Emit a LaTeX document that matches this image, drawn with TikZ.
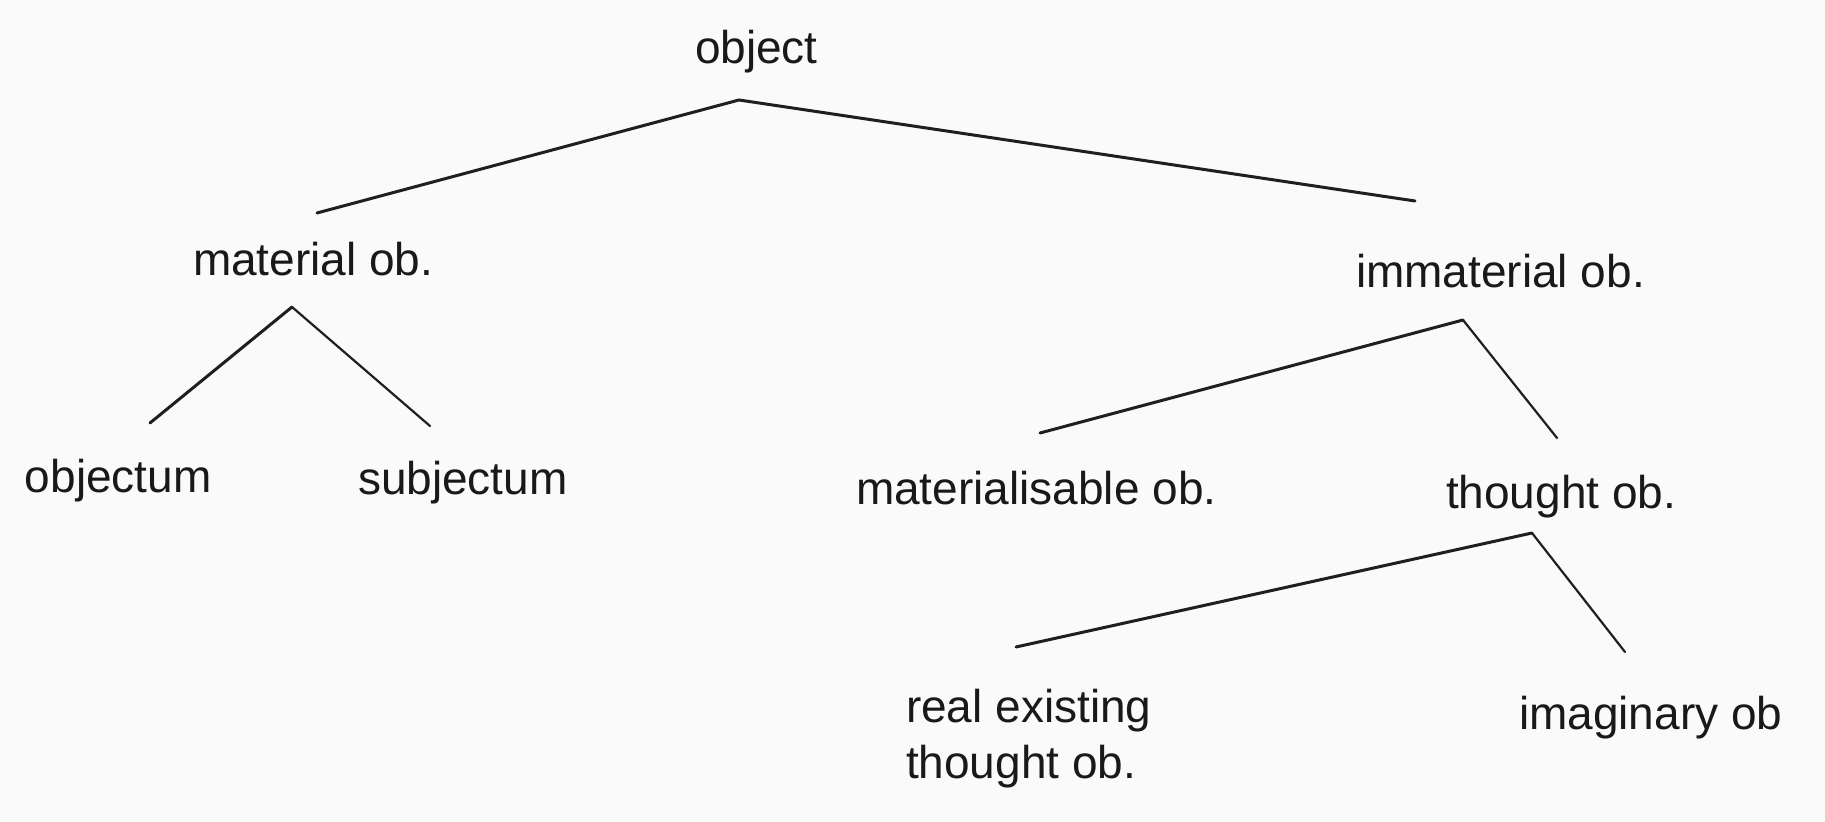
\documentclass[tikz,border=0pt]{standalone}
\usepackage{fontspec}
\setmainfont{Liberation Sans}
\begin{document}
\begin{tikzpicture}[x=0.5pt,y=-0.5pt,
  label/.style={anchor=base west,inner sep=0pt,outer sep=0pt,text=black!90,
    font=\fontsize{23}{28}\selectfont,align=left},
  thick branch/.style={draw=black!88,line width=1.5pt,line cap=round},
  thin branch/.style={draw=black!88,line width=1.1pt,line cap=round}]
  % paper
  \fill[black!2] (0,0) rectangle (1825,822);
  \useasboundingbox (0,0) rectangle (1825,822);

  % labels (a two-line label sits on the baseline of its last line)
  \node[label] (obj)    at (695,64)   {object};
  \node[label] (mat)    at (193,276)  {material ob.};
  \node[label] (imm)    at (1356,288) {immaterial ob.};
  \node[label] (objt)   at (25,493)   {objectum};
  \node[label] (subj)   at (358,495)  {subjectum};
  \node[label] (matl)   at (856,505)  {materialisable ob.};
  \node[label] (tho)    at (1446,509) {thought ob.};
  \node[label] (real)   at (906,778)  {real existing\\thought ob.};
  \node[label] (imag)   at (1519,730) {imaginary ob};

  % branch points and branch ends
  \coordinate (objTop)  at (739,100);
  \coordinate (objL)    at (317,213);
  \coordinate (objR)    at (1415,201);
  \coordinate (matTop)  at (292,307);
  \coordinate (matL)    at (150,423);
  \coordinate (matR)    at (430,426);
  \coordinate (immTop)  at (1463,320);
  \coordinate (immL)    at (1040,433);
  \coordinate (immR)    at (1557,438);
  \coordinate (thoTop)  at (1532,533);
  \coordinate (thoL)    at (1016,647);
  \coordinate (thoR)    at (1625,652);

  % branches
  \draw[thick branch] (objL) -- (objTop) -- (objR);
  \draw[thick branch] (matL) -- (matTop);
  \draw[thin branch]  (matTop) -- (matR);
  \draw[thick branch] (immL) -- (immTop);
  \draw[thin branch]  (immTop) -- (immR);
  \draw[thick branch] (thoL) -- (thoTop);
  \draw[thin branch]  (thoTop) -- (thoR);
\end{tikzpicture}
\end{document}
